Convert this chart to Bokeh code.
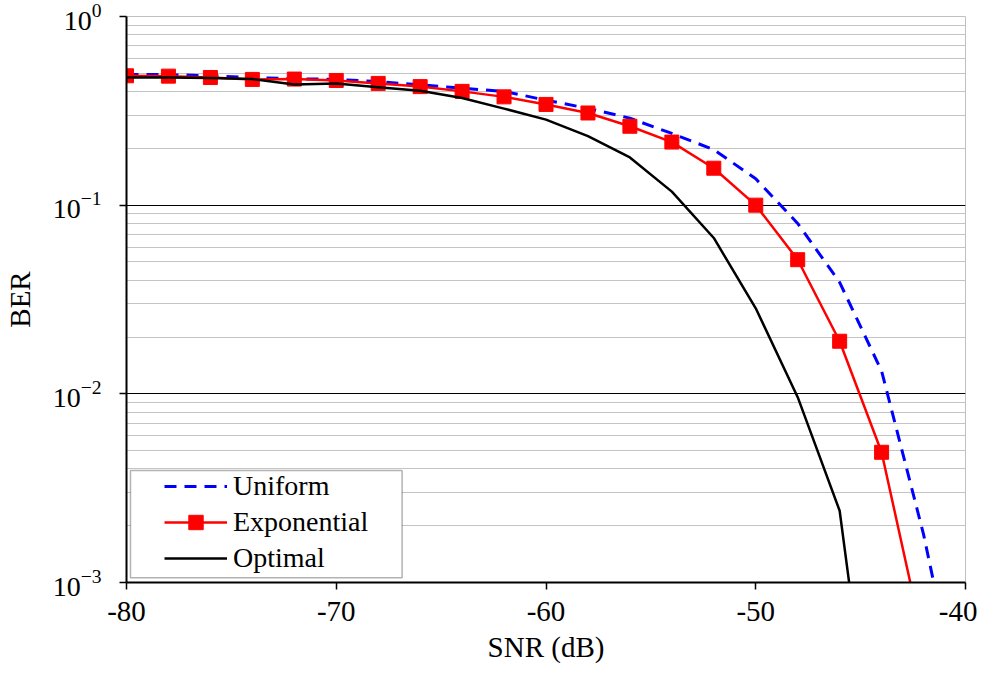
from bokeh.plotting import figure
from bokeh.models import LogTicker, FixedTicker, Legend, LegendItem, BoxAnnotation
from bokeh.embed import file_html
from bokeh.resources import INLINE

nan = float("nan")

# SNR in dB
snr = [-80, -78, -76, -74, -72, -70, -68, -66, -64, -62, -60,
       -58, -56, -54, -52, -50, -48, -46, -44, -42, -40]

# BER values
uniform = [0.492, 0.492, 0.485, 0.475, 0.468, 0.464, 0.452, 0.434, 0.417, 0.401, 0.360,
           0.326, 0.289, 0.240, 0.197, 0.138, 0.080, 0.039, 0.0132, 0.0018, 0.00016]
exponential = [0.485, 0.483, 0.475, 0.464, 0.466, 0.458, 0.442, 0.425, 0.401, 0.375, 0.342,
               0.308, 0.262, 0.216, 0.157, 0.100, 0.0514, 0.019, 0.0049, 0.00048, nan]
optimal = [0.475, 0.475, 0.472, 0.466, 0.436, 0.441, 0.422, 0.404, 0.370, 0.325, 0.284,
           0.232, 0.179, 0.118, 0.067, 0.0284, 0.0096, 0.0024, 0.00005, nan, nan]

x_ticks = [-80, -70, -60, -50, -40]
x_tick_labels = ["-80", "-70", "-60", "-50", "-40"]
series_names = ["Uniform", "Exponential", "Optimal"]

FONT = "Liberation Serif"

p = figure(width=977, height=665, y_axis_type="log",
           x_range=(-80, -40), y_range=(1e-3, 1),
           output_backend="svg", toolbar_location=None,
           min_border_left=119, min_border_right=12,
           min_border_top=16, min_border_bottom=70)

p.background_fill_color = "white"
p.border_fill_color = "white"
p.outline_line_color = "#c0c0c0"

# grids
p.xgrid.grid_line_color = None
p.ygrid.grid_line_color = "black"
p.ygrid.grid_line_width = 1
p.ygrid.minor_grid_line_color = "#c4c4c4"
p.ygrid.minor_grid_line_width = 1

p.yaxis.ticker = LogTicker(num_minor_ticks=10, desired_num_ticks=4)
p.xaxis.ticker = FixedTicker(ticks=x_ticks)
p.xaxis.major_label_overrides = dict(zip(x_ticks, x_tick_labels))

for ax in (p.xaxis[0], p.yaxis[0]):
    ax.axis_line_color = "black"
    ax.axis_line_width = 2
    ax.major_tick_line_color = "black"
    ax.major_tick_line_width = 1.5
    ax.major_tick_out = 7
    ax.major_tick_in = 0
    ax.minor_tick_line_color = None
    ax.major_label_text_font = FONT
    ax.major_label_text_color = "black"
    ax.axis_label_text_font = FONT
    ax.axis_label_text_font_style = "normal"
    ax.axis_label_text_color = "black"
    ax.axis_label_text_font_size = "29px"

p.xaxis.major_label_text_font_size = "29px"
p.yaxis.major_label_text_font_size = "28px"
p.xaxis.major_label_standoff = 12
p.yaxis.major_label_standoff = 18
p.xaxis.axis_label = "SNR (dB)"
p.yaxis.axis_label = "BER"
p.xaxis.axis_label_standoff = 7
p.yaxis.axis_label_standoff = 14

r_u = p.line(snr, uniform, line_color="#0000FF", line_width=3, line_dash="12 8")
r_e = p.line(snr, exponential, line_color="#FF0000", line_width=2.5)
r_es = p.scatter(snr, exponential, marker="square", size=14,
                 fill_color="#FF0000", line_color="#FF0000")
r_o = p.line(snr, optimal, line_color="black", line_width=2.5)

# legend frame
box = BoxAnnotation(left=-79.81, right=-66.86, bottom=1.06e-3, top=3.92e-3,
                    fill_color="white", fill_alpha=1.0,
                    line_color="black", line_width=1.5)
p.add_layout(box)

legend = Legend(items=[
    LegendItem(label=series_names[0], renderers=[r_u]),
    LegendItem(label=series_names[1], renderers=[r_e, r_es]),
    LegendItem(label=series_names[2], renderers=[r_o]),
], location=(38, 6))
legend.padding = 0
legend.margin = 0
legend.spacing = 0
legend.border_line_color = None
legend.background_fill_alpha = 0
legend.label_text_font = FONT
legend.label_text_font_size = "28px"
legend.label_text_color = "black"
legend.label_height = 36
legend.glyph_height = 36
legend.glyph_width = 63
legend.label_standoff = 6
p.add_layout(legend)

open("out.html", "w").write(file_html(p, INLINE))
